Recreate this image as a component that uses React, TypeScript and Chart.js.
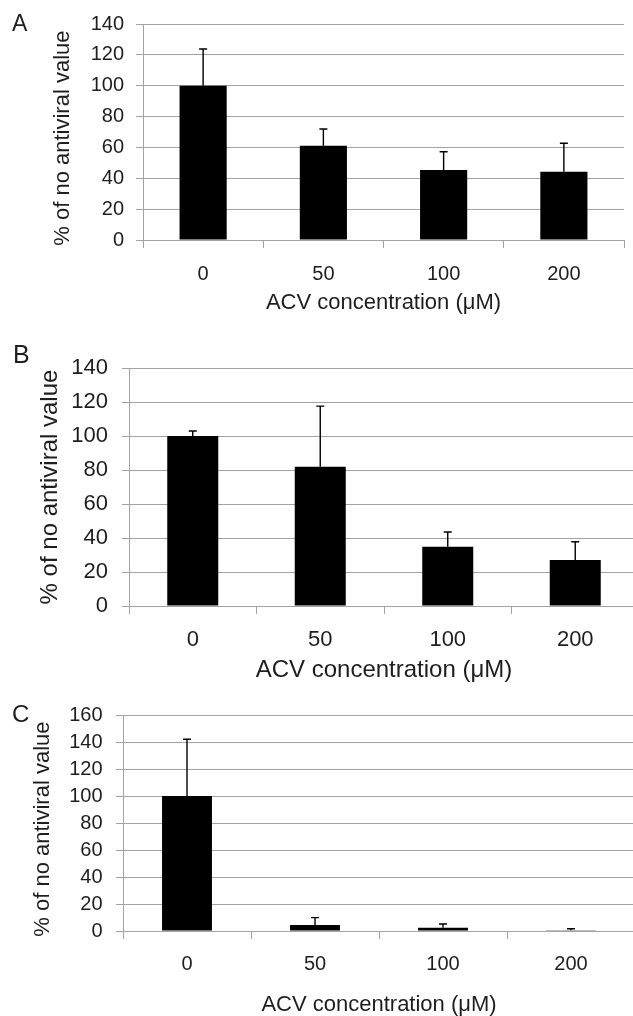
import React, { useEffect, useRef } from "react";
import { Chart, registerables } from "chart.js";

Chart.register(...registerables);

// ---- data ----
const categories = ["0", "50", "100", "200"];

const valuesA = [100, 61.1, 45.4, 44.3];
const errorsA = [23.8, 10.8, 11.8, 18.4];

const valuesB = [100, 81.9, 34.9, 27.1];
const errorsB = [2.9, 35.7, 8.6, 10.7];

const valuesC = [100, 4.4, 2.5, 0.5];
const errorsC = [42, 5.5, 2.7, 1.2];

const yMaxA = 140;
const yMaxB = 140;
const yMaxC = 160;
const yStep = 20;

const yTitle = "% of no antiviral value";
const xTitle = "ACV concentration (\u03bcM)";
const panelLetters = ["A", "B", "C"];

const FONT = "'Liberation Sans', Arial, Helvetica, sans-serif";
const TEXT = "#1e1e1e";
const GRID = "#a3a3a3";

const errorBarPlugin = {
  id: "errorBars",
  afterDatasetsDraw(chart: any, _args: any, opts: any) {
    const errs: number[] = opts.errors || [];
    const meta = chart.getDatasetMeta(0);
    const y = chart.scales.y;
    const ctx = chart.ctx;
    ctx.save();
    ctx.strokeStyle = "#000";
    ctx.lineWidth = 1.4;
    meta.data.forEach((bar: any, i: number) => {
      const v = chart.data.datasets[0].data[i] as number;
      const top = y.getPixelForValue(v + errs[i]);
      const x = bar.x;
      ctx.beginPath();
      ctx.moveTo(x, bar.y);
      ctx.lineTo(x, top);
      ctx.moveTo(x - 4, top);
      ctx.lineTo(x + 4, top);
      ctx.stroke();
    });
    ctx.restore();
  },
};

type Layout = {
  canvasH: number;
  top: number;
  bottom: number;
  left: number;
  right: number;
  tickFont: number;
  titleFont: number;
  yTickPad: number;
  xTickPad: number;
  yTitlePad: number;
  xTitlePad: number;
  barPct: number;
  yTitleTrail: string;
};

const CANVAS_W = 650;

function makeChart(
  canvas: HTMLCanvasElement,
  values: number[],
  errors: number[],
  yMax: number,
  L: Layout
) {
  return new Chart(canvas, {
    type: "bar",
    data: {
      labels: categories,
      datasets: [
        {
          data: values,
          backgroundColor: "#000",
          borderWidth: 0,
          categoryPercentage: 1,
          barPercentage: L.barPct,
        },
      ],
    },
    plugins: [errorBarPlugin],
    options: {
      responsive: false,
      animation: false,
      devicePixelRatio: 1,
      layout: {
        padding: { top: L.top, left: 0, right: CANVAS_W - L.right, bottom: 0 },
      },
      plugins: {
        legend: { display: false },
        tooltip: { enabled: false },
        errorBars: { errors },
      } as any,
      scales: {
        x: {
          position: "bottom",
          afterFit: (s: any) => {
            s.height = L.canvasH - L.bottom;
          },
          grid: {
            display: true,
            offset: true,
            drawOnChartArea: false,
            drawTicks: true,
            tickLength: 8,
            color: GRID,
            lineWidth: 1,
          },
          border: { display: true, color: GRID, width: 1 },
          ticks: {
            color: TEXT,
            padding: L.xTickPad,
            font: { family: FONT, size: L.tickFont, lineHeight: 1 },
            maxRotation: 0,
            autoSkip: false,
          },
          title: {
            display: true,
            text: xTitle,
            color: TEXT,
            font: { family: FONT, size: L.titleFont, lineHeight: 1 },
            padding: { top: 0, bottom: L.xTitlePad },
          },
        },
        y: {
          position: "left",
          min: 0,
          max: yMax,
          afterFit: (s: any) => {
            s.width = L.left;
          },
          grid: {
            color: GRID,
            lineWidth: 1,
            drawTicks: true,
            tickLength: 7,
          },
          border: { display: true, color: GRID, width: 1 },
          ticks: {
            stepSize: yStep,
            color: TEXT,
            padding: L.yTickPad,
            font: { family: FONT, size: L.tickFont, lineHeight: 1 },
          },
          title: {
            display: true,
            text: yTitle + L.yTitleTrail,
            color: TEXT,
            font: { family: FONT, size: L.titleFont, lineHeight: 1 },
            padding: { top: L.yTitlePad, bottom: 0 },
          },
        },
      },
    } as any,
  });
}

const layoutA: Layout = {
  canvasH: 330,
  top: 24,
  bottom: 240,
  left: 143,
  right: 624,
  tickFont: 20,
  titleFont: 22,
  yTickPad: 12,
  xTickPad: 16.5,
  yTitlePad: 52,
  xTitlePad: 16.5,
  barPct: 0.392,
  yTitleTrail: "\u00a0\u00a0",
};

const layoutB: Layout = {
  canvasH: 355,
  top: 38,
  bottom: 276,
  left: 129,
  right: 639,
  tickFont: 22,
  titleFont: 24,
  yTickPad: 14,
  xTickPad: 14.5,
  yTitlePad: 38,
  xTitlePad: 3,
  barPct: 0.4,
  yTitleTrail: "",
};

const layoutC: Layout = {
  canvasH: 331,
  top: 30,
  bottom: 246,
  left: 123,
  right: 635,
  tickFont: 20,
  titleFont: 22,
  yTickPad: 13.5,
  xTickPad: 15.5,
  yTitlePad: 32,
  xTitlePad: 0,
  barPct: 0.39,
  yTitleTrail: "\u00a0\u00a0",
};

const tops = [0, 330, 685];

export default function App() {
  const refA = useRef<HTMLCanvasElement>(null);
  const refB = useRef<HTMLCanvasElement>(null);
  const refC = useRef<HTMLCanvasElement>(null);

  useEffect(() => {
    const charts: Chart[] = [];
    if (refA.current) charts.push(makeChart(refA.current, valuesA, errorsA, yMaxA, layoutA));
    if (refB.current) charts.push(makeChart(refB.current, valuesB, errorsB, yMaxB, layoutB));
    if (refC.current) charts.push(makeChart(refC.current, valuesC, errorsC, yMaxC, layoutC));
    return () => charts.forEach((c) => c.destroy());
  }, []);

  const layouts = [layoutA, layoutB, layoutC];
  const refs = [refA, refB, refC];
  const letterPos = [
    { left: 12, top: 12, size: 23 },
    { left: 13, top: 342, size: 25 },
    { left: 12, top: 702, size: 24 },
  ];

  return (
    <div
      style={{
        position: "absolute",
        left: 0,
        top: 0,
        width: 633,
        height: 1016,
        overflow: "hidden",
        background: "#fff",
      }}
    >
      {refs.map((r, i) => (
        <canvas
          key={i}
          ref={r}
          width={CANVAS_W}
          height={layouts[i].canvasH}
          style={{
            position: "absolute",
            left: 0,
            top: tops[i],
            width: CANVAS_W,
            height: layouts[i].canvasH,
            display: "block",
          }}
        />
      ))}
      {panelLetters.map((l, i) => (
        <div
          key={l}
          style={{
            position: "absolute",
            left: letterPos[i].left,
            top: letterPos[i].top,
            fontFamily: FONT,
            fontSize: letterPos[i].size,
            lineHeight: 1,
            color: TEXT,
          }}
        >
          {l}
        </div>
      ))}
    </div>
  );
}
